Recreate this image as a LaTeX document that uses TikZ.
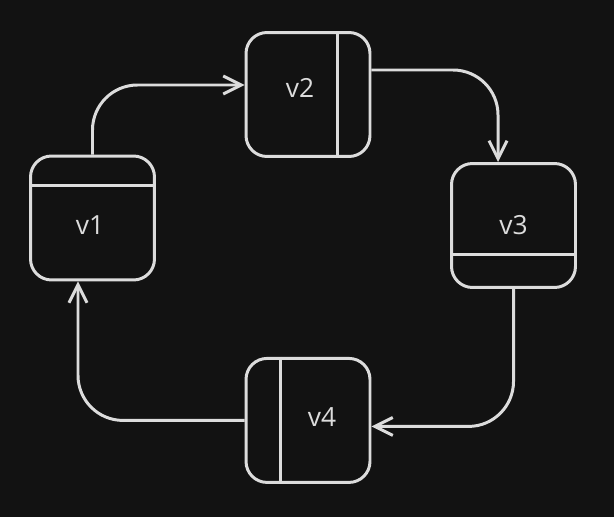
\documentclass[tikz,border=0pt]{standalone}
\usepackage{fontspec}
\setmainfont{Open Sans}
\usepackage{tikz}
\usetikzlibrary{arrows.meta, calc, positioning}

\definecolor{bgdark}{HTML}{121212}
\definecolor{inkgray}{HTML}{DCDCDC}

\begin{document}
\begin{tikzpicture}[x=0.02cm, y=-0.02cm, font=\fontsize{15}{17}\selectfont,
    >={Straight Barb[length=0.36cm, width=0.36cm]},
    vbox/.style={draw=inkgray, line width=1.7pt, rounded corners=0.42cm,
      minimum width=2.48cm, minimum height=2.48cm, inner sep=0pt},
    vtext/.style={text=inkgray, inner sep=1pt},
    link/.style={->, draw=inkgray, line width=1.7pt, rounded corners=0.9cm}]
    \fill[bgdark] (0,0) rectangle (614,517);
    \useasboundingbox (0,0) rectangle (614,517);

    \node[vbox] (v1) at (92.5,218) {};
    \node[vbox] (v2) at (308,94.5) {};
    \node[vbox] (v3) at (513.5,225.5) {};
    \node[vbox, below=3.98cm of v2] (v4) {};

    % dividers
    \draw[inkgray, line width=1.7pt] ([yshift=-0.62cm]v1.north west) -- ([yshift=-0.62cm]v1.north east);
    \draw[inkgray, line width=1.7pt] ([xshift=-0.68cm]v2.north east) -- ([xshift=-0.68cm]v2.south east);
    \draw[inkgray, line width=1.7pt] ([yshift=0.68cm]v3.south west) -- ([yshift=0.68cm]v3.south east);
    \draw[inkgray, line width=1.7pt] ([xshift=0.72cm]v4.north west) -- ([xshift=0.72cm]v4.south west);

    \node[vtext] (v1t) at ([xshift=-0.05cm, yshift=-0.14cm]v1.center) {v1};
    \node[vtext] (v2t) at ([xshift=-0.16cm, yshift=0.13cm]v2.center) {v2};
    \node[vtext] (v3t) at (v3.center) {v3};
    \node[vtext] (v4t) at ([xshift=0.28cm, yshift=0.07cm]v4.center) {v4};

    \draw[link] (v1.north) |- ([yshift=0.19cm]v2.west);
    \draw[link] ([yshift=0.49cm]v2.east) -| ([xshift=-0.31cm]v3.north);
    \draw[link] (v3.south) |- ([yshift=-0.12cm]v4.east);
    \draw[link] (v4.west) -| ([xshift=-0.29cm]v1.south);
\end{tikzpicture}
\end{document}
